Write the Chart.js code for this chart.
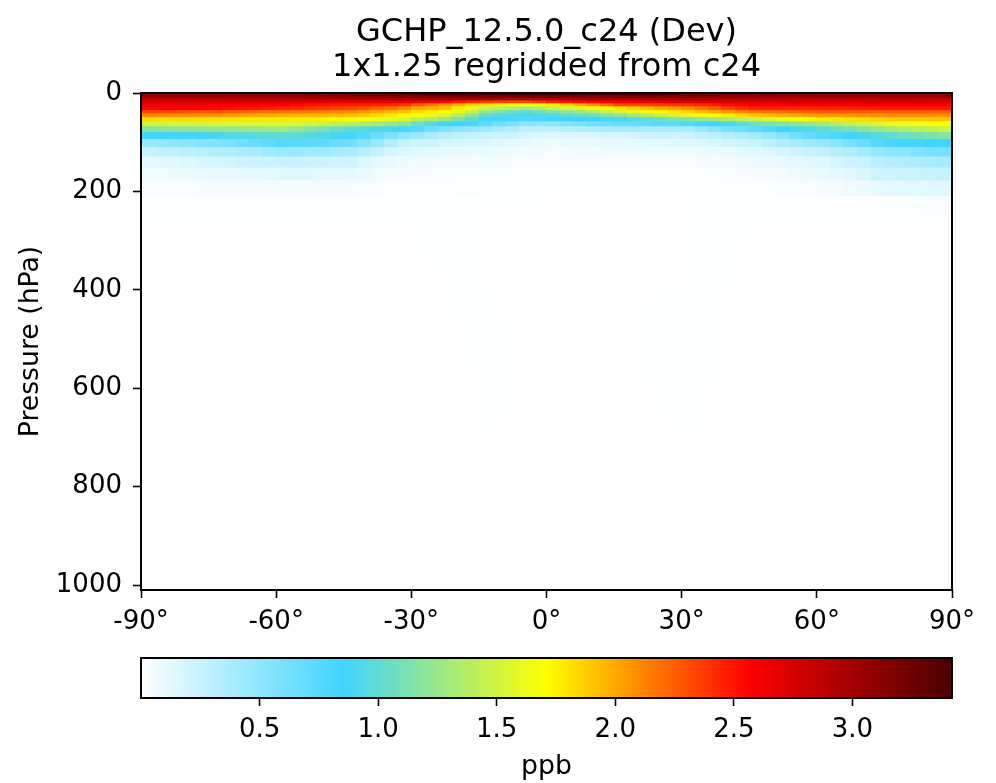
<!DOCTYPE html>
<html>
<head>
<meta charset="utf-8">
<script src="https://cdn.jsdelivr.net/npm/chart.js@4/dist/chart.umd.min.js"></script>
<style>
  html, body { margin: 0; padding: 0; background: #fff; }
  canvas { position: absolute; left: 0; }
</style>
</head>
<body>
<canvas id="zonal" width="996" height="640" style="top:0"></canvas>
<canvas id="colorbar" width="996" height="143" style="top:640px"></canvas>
<script>
// latitude of each 3 degree column centre
const lats = [-88.5,-85.5,-82.5,-79.5,-76.5,-73.5,-70.5,-67.5,-64.5,-61.5,-58.5,-55.5,-52.5,-49.5,-46.5,-43.5,-40.5,-37.5,-34.5,-31.5,
  -28.5,-25.5,-22.5,-19.5,-16.5,-13.5,-10.5,-7.5,-4.5,-1.5,1.5,4.5,7.5,10.5,13.5,16.5,19.5,22.5,25.5,28.5,
  31.5,34.5,37.5,40.5,43.5,46.5,49.5,52.5,55.5,58.5,61.5,64.5,67.5,70.5,73.5,76.5,79.5,82.5,85.5,88.5];

// pressure edges of the rows, hPa
const pressureEdges = [0,4,9.3,14,19.8,26,33.8,40.2,47.6,56.4,66.6,78.5,92.4,108.7,127.8,150.4,176.9,208.2,244.9,288.1,337.5,375,413,451,488,526,564,602,639,677,715];

// ppb, one row per pressure band, top to bottom, each row south to north
const row00 = [3.14,3.14,3.14,3.14,3.14,3.15,3.15,3.16,3.16,3.17, 3.18,3.18,3.19,3.2,3.21,3.22,3.23,3.24,3.26,3.27, 3.29,3.3,3.32,3.34,3.36,3.37,3.38,3.39,3.4,3.4, 3.4,3.4,3.39,3.38,3.37,3.36,3.34,3.32,3.3,3.29, 3.27,3.25,3.24,3.22,3.21,3.2,3.19,3.18,3.17,3.16, 3.15,3.15,3.14,3.14,3.14,3.14,3.14,3.14,3.14,3.14];
const row01 = [3.05,3.05,3.05,3.05,3.05,3.05,3.05,3.05,3.05,3.05, 3.05,3.06,3.07,3.08,3.09,3.11,3.12,3.13,3.14,3.14, 3.16,3.17,3.18,3.19,3.2,3.2,3.21,3.22,3.22,3.21, 3.18,3.18,3.18,3.18,3.18,3.18,3.18,3.17,3.16,3.14, 3.14,3.13,3.12,3.1,3.09,3.07,3.07,3.06,3.06,3.05, 3.05,3.05,3.05,3.04,3.04,3.04,3.04,3.03,3.03,3.03];
const row02 = [2.85,2.85,2.86,2.86,2.87,2.87,2.88,2.88,2.89,2.89, 2.9,2.9,2.91,2.91,2.92,2.93,2.94,2.94,2.95,2.96, 2.96,2.96,2.95,2.94,2.93,2.91,2.91,2.9,2.88,2.88, 2.9,2.91,2.92,2.93,2.95,2.96,2.96,2.97,2.97,2.96, 2.96,2.95,2.93,2.92,2.91,2.9,2.89,2.89,2.88,2.87, 2.87,2.87,2.86,2.86,2.86,2.85,2.85,2.85,2.84,2.84];
const row03 = [2.76,2.76,2.76,2.75,2.75,2.75,2.75,2.75,2.75,2.74, 2.74,2.73,2.72,2.71,2.7,2.69,2.68,2.68,2.67,2.66, 2.65,2.6,2.56,2.48,2.41,2.36,2.34,2.32,2.31,2.36, 2.46,2.5,2.54,2.56,2.59,2.6,2.63,2.66,2.69,2.72, 2.74,2.74,2.74,2.74,2.74,2.74,2.75,2.75,2.75,2.75, 2.75,2.75,2.75,2.76,2.76,2.76,2.76,2.76,2.75,2.75];
const row04 = [2.65,2.64,2.63,2.62,2.61,2.6,2.59,2.58,2.57,2.56, 2.56,2.53,2.52,2.5,2.49,2.47,2.46,2.44,2.42,2.4, 2.25,2.15,2.05,1.95,1.85,1.8,1.77,1.73,1.7,1.73, 1.77,1.85,1.95,2.05,2.2,2.33,2.35,2.36,2.38,2.39, 2.4,2.43,2.47,2.51,2.54,2.57,2.58,2.58,2.59,2.59, 2.6,2.6,2.61,2.61,2.62,2.62,2.62,2.61,2.61,2.6];
const row05 = [2.6,2.59,2.58,2.57,2.56,2.56,2.53,2.51,2.49,2.47, 2.45,2.43,2.4,2.38,2.35,2.33,2.29,2.23,2.17,2.1, 2.0,1.97,1.93,1.77,1.63,1.5,1.43,1.35,1.3,1.37, 1.47,1.53,1.59,1.65,1.73,1.8,1.87,1.93,2.0,2.05, 2.1,2.17,2.25,2.33,2.4,2.45,2.45,2.45,2.45,2.45, 2.45,2.46,2.47,2.48,2.49,2.5,2.5,2.5,2.5,2.5];
const row06 = [2.32,2.31,2.3,2.29,2.28,2.27,2.25,2.23,2.21,2.19, 2.17,2.16,2.14,2.13,2.11,2.1,2.06,2.01,1.96,1.9, 1.83,1.77,1.71,1.6,1.45,1.25,1.13,1.05,1.0,1.07, 1.15,1.21,1.28,1.35,1.45,1.55,1.61,1.67,1.73,1.79, 1.85,1.92,1.99,2.05,2.11,2.17,2.19,2.21,2.23,2.25, 2.27,2.27,2.26,2.26,2.25,2.25,2.25,2.25,2.25,2.25];
const row07 = [2.12,2.11,2.1,2.09,2.08,2.07,2.05,2.03,2.01,1.99, 1.97,1.96,1.95,1.95,1.94,1.93,1.89,1.84,1.79,1.73, 1.67,1.61,1.55,1.4,1.2,1.0,.95,.92,.9,.91, .93,.97,1.01,1.05,1.13,1.2,1.28,1.37,1.45,1.53, 1.6,1.66,1.72,1.77,1.84,1.9,1.93,1.96,1.99,2.02, 2.05,2.06,2.07,2.08,2.09,2.1,2.09,2.09,2.08,2.07];
const row08 = [1.84,1.83,1.83,1.82,1.82,1.81,1.8,1.79,1.79,1.78, 1.77,1.76,1.76,1.75,1.74,1.73,1.69,1.65,1.59,1.53, 1.43,1.35,1.25,1.13,1.0,.9,.87,.82,.79,.81, .84,.85,.85,.86,.89,.9,.95,1.0,1.05,1.11, 1.17,1.23,1.29,1.35,1.43,1.5,1.57,1.63,1.7,1.74, 1.77,1.79,1.81,1.83,1.86,1.88,1.89,1.89,1.9,1.9];
const row09 = [1.48,1.49,1.5,1.51,1.52,1.53,1.53,1.54,1.54,1.55, 1.55,1.53,1.5,1.47,1.43,1.4,1.36,1.31,1.25,1.2, 1.05,.97,.9,.85,.82,.73,.65,.58,.51,.51, .51,.55,.59,.62,.65,.68,.7,.72,.75,.76, .78,.82,.88,.92,.99,1.05,1.1,1.15,1.2,1.25, 1.3,1.36,1.43,1.49,1.55,1.62,1.64,1.66,1.68,1.7];
const row10 = [1.17,1.18,1.19,1.2,1.22,1.23,1.24,1.25,1.26,1.26, 1.27,1.23,1.17,1.11,1.05,1.0,.97,.94,.91,.87, .75,.65,.57,.51,.47,.43,.38,.34,.29,.29, .29,.32,.34,.35,.37,.38,.38,.38,.38,.38, .38,.45,.53,.6,.66,.73,.78,.85,.91,.95, 1.0,1.06,1.12,1.18,1.24,1.3,1.35,1.39,1.43,1.47];
const row11 = [.84,.85,.86,.87,.88,.9,.92,.94,.96,.98, 1.0,.98,.95,.93,.9,.87,.77,.68,.58,.49, .43,.37,.32,.28,.26,.24,.23,.21,.19,.16, .14,.15,.16,.16,.17,.19,.2,.21,.22,.22, .23,.26,.29,.33,.36,.4,.47,.53,.62,.69, .75,.8,.85,.91,.95,1.0,1.04,1.08,1.11,1.15];
const row12 = [.47,.49,.51,.52,.55,.57,.6,.64,.67,.71, .75,.74,.73,.71,.67,.64,.55,.45,.35,.26, .23,.21,.2,.19,.16,.15,.13,.12,.1,.09, .08,.09,.09,.1,.1,.11,.11,.12,.12,.13, .13,.15,.17,.2,.23,.25,.29,.34,.38,.43, .46,.52,.6,.67,.75,.82,.83,.84,.85,.86];
const row13 = [.25,.27,.28,.3,.32,.34,.36,.38,.4,.44, .46,.45,.44,.43,.4,.38,.32,.26,.2,.15, .13,.12,.11,.1,.1,.09,.08,.07,.05,.05, .04,.04,.05,.05,.07,.07,.07,.07,.07,.07, .07,.08,.09,.1,.12,.13,.15,.19,.21,.24, .27,.32,.36,.41,.47,.51,.53,.57,.6,.62];
const row14 = [.12,.13,.14,.15,.17,.19,.2,.21,.23,.24, .25,.25,.24,.23,.22,.21,.16,.13,.1,.08, .07,.07,.05,.05,.04,.04,.04,.04,.03,.03, .03,.03,.03,.03,.03,.03,.03,.03,.03,.03, .03,.04,.04,.05,.07,.08,.09,.11,.12,.14, .15,.19,.23,.26,.3,.34,.35,.37,.38,.4];
const row15 = [.07,.07,.08,.08,.09,.1,.1,.11,.12,.12, .13,.13,.13,.12,.12,.11,.09,.07,.05,.04, .03,.03,.03,.02,.02,.02,.02,.02,.02,.02, .02,.02,.02,.02,.02,.02,.02,.02,.02,.02, .02,.02,.02,.03,.03,.04,.04,.05,.07,.08, .09,.11,.14,.17,.21,.23,.24,.24,.25,.26];
const row16 = [.03,.03,.03,.03,.04,.04,.04,.04,.05,.05, .05,.05,.05,.05,.04,.04,.03,.03,.02,.02, .02,.02,.02,.02,.02,.01,.01,.01,.01,.01, .01,.01,.01,.01,.01,.01,.01,.01,.01,.01, .01,.01,.01,.02,.02,.02,.02,.03,.03,.03, .04,.05,.07,.08,.1,.11,.12,.12,.13,.14];
const row17 = [.01,.01,.01,.01,.01,.01,.01,.01,.01,.01, .02,.02,.02,.02,.02,.02,.01,.01,.01,.01, .01,.01,.01,.005,.005,.005,.005,.005,.005,.005, 0,0,0,0,0,0,0,0,0,0, .01,.01,.01,.01,.01,.01,.01,.01,.01,.01, .01,.01,.01,.01,.015,.02,.02,.025,.03,.03];
const row18 = [.005,.005,.005,.005,.005,.005,.005,.005,.005,.005, .005,.005,.005,.005,.005,.005,.005,.005,.005,.005, .01,.01,.01,.01,.01,0,0,0,0,0, 0,0,0,0,0,0,0,0,0,0, .01,.01,.01,.01,.01,.005,.005,.005,.005,.005, .005,.005,.005,.005,.005,.005,.005,.01,.01,.01];
const row19 = [0,0,0,0,0,0,0,0,0,0, 0,0,0,0,0,0,0,0,0,0, .01,.01,.01,.01,.01,.01,0,0,0,0, 0,0,0,0,0,0,0,0,0,0, .01,.01,.01,.01,.01,0,0,0,0,0, 0,0,0,0,0,0,0,0,0,0];
const row20 = [0,0,0,0,0,0,0,0,0,0, 0,0,0,0,0,0,0,0,0,0, 0,.01,.01,.01,.01,.01,0,0,0,0, 0,0,0,0,0,0,0,0,0,0, .01,.01,.01,.01,0,0,0,0,0,0, 0,0,0,0,0,0,0,0,0,0];
const row21 = [0,0,0,0,0,0,0,0,0,0, 0,0,0,0,0,0,0,0,0,0, 0,0,.01,.01,.01,.01,.01,0,0,0, 0,0,0,0,0,0,0,0,.01,.01, .01,.01,.01,.01,0,0,0,0,0,0, 0,0,0,0,0,0,0,0,0,0];
const row22 = [0,0,0,0,0,0,0,0,0,0, 0,0,0,0,0,0,0,0,0,0, 0,0,.01,.01,.01,.01,.01,0,0,0, 0,0,0,0,0,0,0,.01,.01,.01, .01,.01,.01,0,0,0,0,0,0,0, 0,0,0,0,0,0,0,0,0,0];
const row23 = [0,0,0,0,0,0,0,0,0,0, 0,0,0,0,0,0,0,0,0,0, 0,0,0,.01,.01,.01,.01,.01,0,0, 0,0,0,0,0,0,0,.01,.01,.01, .01,.01,.01,0,0,0,0,0,0,0, 0,0,0,0,0,0,0,0,0,0];
const row24 = [0,0,0,0,0,0,0,0,0,0, 0,0,0,0,0,0,0,0,0,0, 0,0,0,.01,.01,.01,.01,.01,0,0, 0,0,0,0,0,0,0,.01,.01,.01, .01,.01,.01,0,0,0,0,0,0,0, 0,0,0,0,0,0,0,0,0,0];
const row25 = [0,0,0,0,0,0,0,0,0,0, 0,0,0,0,0,0,0,0,0,0, 0,0,0,.01,.01,.01,.01,.01,0,0, 0,0,0,0,0,0,0,.01,.01,.01, .01,.01,.01,0,0,0,0,0,0,0, 0,0,0,0,0,0,0,0,0,0];
const row26 = [0,0,0,0,0,0,0,0,0,0, 0,0,0,0,0,0,0,0,0,0, 0,0,0,0,.01,.01,.01,.01,0,0, 0,0,0,0,0,0,0,.01,.01,.01, .01,.01,.01,0,0,0,0,0,0,0, 0,0,0,0,0,0,0,0,0,0];
const row27 = [0,0,0,0,0,0,0,0,0,0, 0,0,0,0,0,0,0,0,0,0, 0,0,0,0,.01,.01,.01,.01,0,0, 0,0,0,0,0,0,0,0,.01,.01, .01,.01,0,0,0,0,0,0,0,0, 0,0,0,0,0,0,0,0,0,0];
const row28 = [0,0,0,0,0,0,0,0,0,0, 0,0,0,0,0,0,0,0,0,0, 0,0,0,0,.01,.01,.01,.01,0,0, 0,0,0,0,0,0,0,0,.01,.01, .01,.01,0,0,0,0,0,0,0,0, 0,0,0,0,0,0,0,0,0,0];
const row29 = [0,0,0,0,0,0,0,0,0,0, 0,0,0,0,0,0,0,0,0,0, 0,0,0,0,0,.01,.01,0,0,0, 0,0,0,0,0,0,0,0,0,.01, .01,.01,0,0,0,0,0,0,0,0, 0,0,0,0,0,0,0,0,0,0];
const rows = [row00,row01,row02,row03,row04,row05,row06,row07,row08,row09,row10,row11,row12,row13,row14,row15,row16,row17,row18,row19,row20,row21,row22,row23,row24,row25,row26,row27,row28,row29];

const latTicks = [-90,-60,-30,0,30,60,90];
const pressureTicks = [0,200,400,600,800,1000];
const colorbarTicks = [0.5,1.0,1.5,2.0,2.5,3.0];
const titleLines = ['GCHP_12.5.0_c24 (Dev)', '1x1.25 regridded from c24'];

// colormap: value of each stop and its colour
const cmapValues = [0,0.855,1.71,2.565,3.42];
const cmapColors = [[255,255,255],[64,212,255],[255,255,0],[255,0,0],[75,0,0]];
const cmapCss = c => `rgb(${c[0]},${c[1]},${c[2]})`;

function colorFor(v) {
  let i = 0;
  while (i < cmapValues.length - 2 && v > cmapValues[i + 1]) i++;
  const t = Math.min(1, Math.max(0, (v - cmapValues[i]) / (cmapValues[i + 1] - cmapValues[i])));
  const a = cmapColors[i], b = cmapColors[i + 1];
  return cmapCss(a.map((c, k) => Math.round(c + (b[k] - c) * t)));
}

Chart.defaults.font.family = '"DejaVu Sans", sans-serif';
Chart.defaults.color = '#000';
Chart.defaults.animation = false;

// frame round the plot area
const frame = {
  id: 'frame',
  afterDatasetsDraw(chart) {
    const { ctx, chartArea: a } = chart;
    ctx.save();
    ctx.strokeStyle = '#000';
    ctx.lineWidth = 2;
    ctx.strokeRect(a.left, a.top, a.right - a.left, a.bottom - a.top);
    ctx.restore();
  }
};

const tickGrid = { display: true, offset: false, drawOnChartArea: false, drawTicks: true, tickLength: 8, tickWidth: 1.6, tickColor: '#000' };

new Chart(document.getElementById('zonal'), {
  type: 'bar',
  plugins: [frame],
  data: {
    labels: lats,
    datasets: rows.map((values, r) => ({
      label: pressureEdges[r] + '-' + pressureEdges[r + 1] + ' hPa',
      data: values.map(() => [pressureEdges[r], pressureEdges[r + 1]]),
      backgroundColor: values.map(colorFor),
      grouped: false,
      barPercentage: 1,
      categoryPercentage: 1,
      borderWidth: 0,
      inflateAmount: 0.5,
      xAxisID: 'x',
      yAxisID: 'y'
    }))
  },
  options: {
    responsive: false,
    devicePixelRatio: 1,
    layout: { padding: { right: 44, left: 0, top: 0, bottom: 0 } },
    plugins: {
      legend: { display: false },
      tooltip: { enabled: false },
      title: {
        display: true,
        fullSize: false,
        text: titleLines,
        font: { size: 32, weight: 'normal', lineHeight: 1.094 },
        padding: { top: 15, bottom: 8 },
        color: '#000'
      }
    },
    scales: {
      x: { type: 'category', display: false, offset: true },
      latAxis: {
        type: 'linear',
        axis: 'x',
        position: 'bottom',
        offset: false,
        min: -90,
        max: 90,
        afterBuildTicks: s => { s.ticks = latTicks.map(value => ({ value })); },
        afterFit: s => { s.height = 50; },
        ticks: { font: { size: 26 }, padding: 9, maxRotation: 0, autoSkip: false, callback: v => v + '°' },
        grid: tickGrid,
        border: { display: false }
      },
      y: {
        type: 'linear',
        reverse: true,
        min: 0,
        max: 1010,
        afterBuildTicks: s => { s.ticks = pressureTicks.map(value => ({ value })); },
        afterFit: s => { s.width = 141; },
        ticks: { font: { size: 26 }, padding: 11, autoSkip: false, callback: v => String(v) },
        grid: tickGrid,
        border: { display: false },
        title: { display: true, text: 'Pressure (hPa)', font: { size: 26.7 }, padding: { top: 15, bottom: 0 } }
      }
    }
  }
});

new Chart(document.getElementById('colorbar'), {
  type: 'bar',
  plugins: [frame],
  data: {
    labels: ['ppb'],
    datasets: [{
      data: [[cmapValues[0], cmapValues[cmapValues.length - 1]]],
      barPercentage: 1,
      categoryPercentage: 1,
      borderWidth: 0,
      backgroundColor(c) {
        const s = c.chart.scales.x;
        if (!s || !c.chart.chartArea) return '#fff';
        const x0 = s.getPixelForValue(cmapValues[0]);
        const x1 = s.getPixelForValue(cmapValues[cmapValues.length - 1]);
        const g = c.chart.ctx.createLinearGradient(x0, 0, x1, 0);
        cmapValues.forEach((v, i) => g.addColorStop(v / cmapValues[cmapValues.length - 1], cmapCss(cmapColors[i])));
        return g;
      }
    }]
  },
  options: {
    indexAxis: 'y',
    responsive: false,
    devicePixelRatio: 1,
    layout: { padding: { left: 141, right: 44, top: 18, bottom: 0 } },
    plugins: { legend: { display: false }, tooltip: { enabled: false } },
    scales: {
      y: { type: 'category', display: false },
      x: {
        type: 'linear',
        position: 'bottom',
        min: cmapValues[0],
        max: cmapValues[cmapValues.length - 1],
        afterBuildTicks: s => { s.ticks = colorbarTicks.map(value => ({ value })); },
        afterFit: s => { s.height = 85; },
        ticks: { font: { size: 26 }, padding: 9, maxRotation: 0, autoSkip: false, callback: v => v.toFixed(1) },
        grid: tickGrid,
        border: { display: false },
        title: { display: true, text: 'ppb', font: { size: 26.7 }, padding: { top: 4, bottom: 0 } }
      }
    }
  }
});
</script>
</body>
</html>
